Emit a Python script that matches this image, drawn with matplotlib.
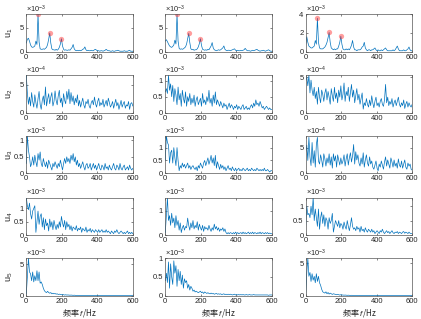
import numpy as np
import matplotlib
matplotlib.use('Agg')
import matplotlib.pyplot as plt

# ---------------- data (values in units of the panel's 10^exp) ----------------
freqs = np.arange(0, 601, 6)
xticks = [0, 200, 400, 600]
peak_freqs = [66, 132, 198]

u1a = [1.8,2.6,2.8,2.2,1.4,1.0,0.9,1.0,1.2,2.2, 1.5,7.8,2.0,0.6,0.5,0.5,0.6,0.5,0.7,0.9, 1.5,2.6,3.9,1.8,0.6,0.4,0.4,0.3,0.5,0.3, 0.5,0.9,1.6,2.7,1.2,0.5,0.3,0.4,0.3,0.3, 0.4,0.3,0.6,0.9,1.5,0.6,0.3,0.2,0.3,0.2, 0.3,0.2,0.3,0.5,0.6,1.0,0.4,0.2,0.3,0.2, 0.2,0.3,0.2,0.2,0.4,0.5,0.3,0.2,0.2,0.1, 0.2,0.2,0.1,0.2,0.3,0.5,0.3,0.2,0.2,0.1, 0.1,0.2,0.1,0.1,0.2,0.2,0.3,0.2,0.1,0.1, 0.1,0.1,0.2,0.1,0.1,0.1,0.2,0.3,0.1,0.1, 0.1]
u1b = [2.2,2.5,2.1,1.6,1.2,1.0,0.9,1.1,1.4,2.4, 1.6,7.8,2.2,0.7,0.5,0.6,0.5,0.6,0.8,1.0, 1.6,2.7,3.8,1.9,0.6,0.4,0.5,0.3,0.4,0.4, 0.6,1.0,1.7,2.7,1.3,0.5,0.4,0.3,0.4,0.3, 0.5,0.4,0.8,1.2,1.9,0.8,0.4,0.3,0.2,0.3, 0.4,0.3,0.4,0.6,0.8,1.2,0.5,0.3,0.2,0.3, 0.3,0.2,0.3,0.4,0.5,0.6,0.3,0.2,0.3,0.2, 0.2,0.3,0.2,0.3,0.4,0.7,0.4,0.2,0.2,0.2, 0.1,0.2,0.3,0.2,0.3,0.4,0.5,0.3,0.2,0.1, 0.2,0.2,0.3,0.2,0.1,0.2,0.3,0.4,0.2,0.1, 0.1]
u1c = [0.7,1.6,1.0,0.6,0.5,0.4,0.4,0.5,0.6,1.2, 0.8,3.57,1.0,0.4,0.3,0.3,0.3,0.4,0.5,0.7, 1.0,1.5,2.05,1.0,0.4,0.3,0.2,0.3,0.2,0.3, 0.3,0.6,1.0,1.65,0.8,0.3,0.2,0.2,0.3,0.2, 0.3,0.2,0.4,0.7,1.2,0.5,0.2,0.2,0.1,0.2, 0.2,0.2,0.3,0.5,0.6,1.0,0.4,0.2,0.1,0.2, 0.2,0.1,0.2,0.2,0.3,0.4,0.2,0.1,0.2,0.1, 0.1,0.2,0.1,0.2,0.3,0.4,0.2,0.1,0.1,0.1, 0.1,0.1,0.2,0.1,0.2,0.4,0.6,0.3,0.1,0.1, 0.1,0.1,0.2,0.1,0.1,0.2,0.3,0.5,0.2,0.1, 0.1]

u2a = [6.7,3.5,1.5,2.8,1.2,3.6,2.0,1.0,3.2,1.8, 0.8,2.5,3.8,1.5,0.6,2.2,3.0,1.4,4.6,1.2, 2.4,3.4,1.6,2.8,3.6,1.2,2.0,3.9,2.2,1.4, 3.0,4.0,1.8,2.6,1.0,3.4,2.2,1.6,3.8,2.4, 4.2,1.6,3.6,2.0,3.0,1.4,2.6,1.8,3.2,1.2, 2.2,1.0,1.8,2.6,1.4,0.8,2.0,1.6,2.4,1.2, 0.8,1.8,2.2,1.4,2.8,1.6,1.0,2.0,2.6,1.2, 1.8,1.4,2.4,1.0,1.6,2.2,1.2,2.6,1.8,1.0, 1.4,2.0,0.8,1.6,2.4,1.2,1.8,0.6,1.4,2.2, 1.0,1.6,2.0,0.8,1.4,1.2,2.0,0.6,1.6,1.8, 1.2]
u2b = [0.65,0.75,0.6,1.17,0.7,0.9,0.5,0.85,0.35,0.75, 0.55,0.25,0.8,0.4,0.6,0.2,0.7,0.45,0.3,0.65, 0.2,0.5,0.35,0.6,0.25,0.45,0.3,0.55,0.2,0.4, 0.5,0.25,0.35,0.45,0.2,0.6,0.3,0.4,0.25,0.5, 0.35,0.7,0.3,0.45,0.2,0.55,0.3,0.65,0.25,0.4, 0.3,0.2,0.35,0.25,0.15,0.3,0.2,0.25,0.1,0.2, 0.3,0.15,0.25,0.2,0.1,0.2,0.15,0.25,0.1,0.2, 0.15,0.1,0.2,0.25,0.1,0.15,0.2,0.1,0.15,0.1, 0.2,0.25,0.15,0.3,0.2,0.4,0.25,0.3,0.2,0.35, 0.25,0.15,0.2,0.1,0.15,0.2,0.15,0.1,0.15,0.1, 0.1]
u2c = [4.5,5.0,3.8,5.3,2.8,4.6,3.2,2.4,3.6,2.0, 3.0,1.2,3.6,2.2,1.4,3.2,2.6,1.6,2.8,3.4, 1.8,3.0,2.2,1.2,3.4,2.4,1.6,3.6,2.0,2.8, 1.4,3.2,2.2,3.8,1.8,2.6,4.2,1.6,3.0,2.4, 3.6,1.6,2.8,4.0,2.2,3.2,1.4,2.4,3.4,1.8, 2.6,1.2,2.0,2.8,0.5,1.4,1.0,2.0,1.2,0.8, 1.8,1.0,2.4,1.4,0.7,1.6,2.2,1.0,1.4,0.8, 1.6,2.0,1.2,0.9,1.8,4.0,1.4,2.2,1.0,1.6, 1.2,2.0,0.8,1.4,1.8,1.0,1.6,2.2,1.2,0.8, 1.4,1.0,1.8,0.6,1.2,1.6,0.8,1.4,1.0,0.8, 1.2]

u3a = [0.3,1.14,0.7,0.5,0.2,0.3,0.5,0.25,0.55,0.35, 0.2,0.6,0.4,0.65,0.3,0.2,0.45,0.3,0.2,0.35, 0.15,0.4,0.3,0.2,0.1,0.3,0.2,0.35,0.25,0.15, 0.3,0.2,0.4,0.25,0.1,0.3,0.45,0.3,0.5,0.35, 0.45,0.3,0.55,0.4,0.6,0.35,0.5,0.25,0.4,0.2, 0.3,0.15,0.25,0.35,0.2,0.1,0.25,0.3,0.15,0.2, 0.3,0.1,0.2,0.3,0.15,0.25,0.1,0.2,0.3,0.15, 0.1,0.25,0.2,0.1,0.3,0.15,0.2,0.1,0.25,0.15, 0.1,0.2,0.3,0.15,0.1,0.25,0.2,0.1,0.3,0.15, 0.1,0.2,0.25,0.1,0.15,0.2,0.1,0.25,0.15,0.1, 0.15]
u3b = [0.5,1.46,1.2,1.1,0.4,0.8,0.9,0.4,1.0,0.6, 0.3,1.0,0.5,0.1,0.3,0.2,0.4,0.25,0.35,0.2, 0.3,0.4,0.2,0.3,0.15,0.25,0.3,0.2,0.15,0.25, 0.1,0.3,0.2,0.4,0.3,0.2,0.4,0.5,0.3,0.45, 0.6,0.35,0.5,0.7,0.4,0.6,0.3,0.7,0.2,0.45, 0.3,0.15,0.35,0.2,0.3,0.15,0.25,0.1,0.2,0.3, 0.15,0.2,0.1,0.25,0.15,0.1,0.2,0.1,0.15,0.2, 0.1,0.15,0.1,0.2,0.15,0.1,0.15,0.2,0.1,0.15, 0.1,0.2,0.15,0.1,0.15,0.1,0.2,0.15,0.1,0.15, 0.1,0.15,0.1,0.2,0.1,0.1,0.15,0.1,0.05,0.1, 0.1]
u3c = [4.0,5.5,2.5,7.0,3.2,1.5,6.0,2.0,4.4,1.2, 5.6,7.0,2.4,1.8,3.6,2.6,1.2,3.8,2.8,1.4, 3.0,2.0,3.8,1.6,3.2,1.0,3.8,2.4,3.4,1.2, 3.6,2.6,1.6,3.0,1.8,2.4,3.6,1.4,2.8,3.8, 1.6,3.0,4.0,2.2,3.4,5.6,1.8,4.2,2.6,3.6, 2.0,1.4,3.0,1.8,4.0,1.2,2.6,3.6,2.0,1.4, 3.2,1.8,2.4,1.2,0.8,1.6,2.4,1.0,0.5,1.8, 1.2,2.4,1.6,0.8,2.2,3.2,1.4,2.6,1.8,1.0, 3.0,2.2,1.2,2.6,1.4,2.0,1.0,2.8,1.6,1.2, 2.4,1.0,1.8,2.6,1.2,0.8,2.0,1.4,1.8,0.8, 0.6]

u4a = [1.41,1.1,0.95,1.2,0.8,0.6,0.9,1.0,1.1,0.1, 0.5,0.9,0.4,0.7,0.8,0.3,0.65,0.2,0.6,0.35, 0.45,0.15,0.6,0.3,0.5,0.2,0.55,0.35,0.2,0.4, 0.25,0.5,0.3,0.7,0.45,0.3,0.55,0.2,0.5,0.3, 0.4,0.2,0.35,0.15,0.3,0.25,0.2,0.35,0.15,0.25, 0.2,0.3,0.1,0.25,0.2,0.15,0.3,0.1,0.2,0.15, 0.25,0.1,0.2,0.15,0.1,0.2,0.15,0.1,0.2,0.1, 0.15,0.2,0.1,0.15,0.1,0.2,0.1,0.15,0.1,0.05, 0.15,0.1,0.05,0.15,0.1,0.2,0.1,0.05,0.1,0.15, 0.1,0.05,0.1,0.05,0.1,0.15,0.05,0.1,0.05,0.1, 0.05]
u4b = [0.1,0.8,1.55,0.6,0.8,0.4,0.9,0.5,0.7,0.3, 0.8,0.4,0.6,0.2,0.5,0.1,0.3,0.4,0.2,0.35, 0.3,0.7,0.4,0.2,0.5,0.3,0.6,0.25,0.4,0.3, 0.55,0.2,0.45,0.3,0.2,0.4,0.15,0.35,0.25,0.3, 0.2,0.4,0.25,0.15,0.3,0.2,0.45,0.25,0.35,0.2, 0.3,0.15,0.25,0.2,0.3,0.15,0.25,0.1,0.05,0.1, 0.05,0.1,0.08,0.05,0.1,0.05,0.12,0.06,0.1,0.05, 0.08,0.1,0.05,0.12,0.06,0.1,0.05,0.08,0.12,0.05, 0.1,0.06,0.12,0.05,0.1,0.08,0.05,0.1,0.06,0.12, 0.05,0.1,0.08,0.05,0.1,0.06,0.1,0.05,0.08,0.06, 0.05]
u4c = [0.3,1.0,0.7,0.75,0.6,1.0,0.7,1.3,0.5,0.9, 0.6,0.3,0.9,0.2,0.6,0.8,0.4,0.7,0.3,0.6, 0.5,0.2,0.6,0.4,0.5,0.75,0.1,0.3,0.5,0.4, 0.3,0.5,0.25,0.4,0.35,0.2,0.45,0.3,0.2,0.5, 0.3,0.15,0.35,0.6,0.3,0.2,0.25,0.15,0.3,0.2, 0.25,0.1,0.3,0.15,0.2,0.1,0.25,0.15,0.1,0.2, 0.15,0.1,0.2,0.1,0.15,0.05,0.1,0.15,0.1,0.05, 0.15,0.1,0.2,0.1,0.05,0.1,0.15,0.08,0.12,0.05, 0.1,0.15,0.08,0.05,0.1,0.08,0.12,0.05,0.1,0.08, 0.05,0.1,0.12,0.06,0.1,0.08,0.05,0.1,0.06,0.05, 0.05]

u5a = [0.3,3.0,6.0,3.8,3.5,2.4,3.8,2.2,3.2,2.4, 4.0,2.4,3.8,2.0,2.2,1.8,1.2,0.8,0.6,0.5, 0.7,0.5,0.4,0.5,0.3,0.4,0.3,0.35,0.25,0.3, 0.2,0.25,0.2,0.15,0.2,0.15,0.1,0.15,0.1,0.12, 0.1,0.08,0.1,0.08,0.06,0.08,0.06,0.05,0.06,0.05, 0.05,0.04,0.05,0.04,0.05,0.04,0.03,0.04,0.03,0.04, 0.03,0.03,0.04,0.03,0.03,0.02,0.03,0.02,0.03,0.02, 0.02,0.03,0.02,0.02,0.03,0.02,0.02,0.02,0.03,0.02, 0.02,0.02,0.02,0.03,0.02,0.02,0.02,0.02,0.02,0.02, 0.02,0.02,0.02,0.02,0.02,0.02,0.02,0.02,0.02,0.02, 0.02]
u5b = [0.4,0.6,0.35,0.9,0.2,0.85,0.5,0.3,0.93,0.6, 0.8,0.25,0.7,0.4,0.65,0.3,0.55,0.2,0.45,0.35, 0.4,0.2,0.3,0.15,0.25,0.2,0.12,0.15,0.1,0.12, 0.1,0.08,0.1,0.12,0.08,0.1,0.06,0.1,0.08,0.06, 0.08,0.06,0.05,0.07,0.05,0.06,0.04,0.05,0.06,0.04, 0.05,0.04,0.05,0.03,0.04,0.05,0.03,0.04,0.03,0.04, 0.03,0.04,0.03,0.02,0.03,0.04,0.02,0.03,0.02,0.03, 0.02,0.03,0.02,0.03,0.02,0.02,0.03,0.02,0.02,0.03, 0.02,0.02,0.02,0.03,0.02,0.02,0.02,0.02,0.02,0.02, 0.02,0.02,0.02,0.02,0.02,0.02,0.02,0.01,0.02,0.02, 0.02]
u5c = [0.2,3.5,5.8,3.0,3.6,2.2,3.4,2.4,3.0,2.0, 3.4,2.2,3.0,2.0,1.6,1.0,0.6,0.5,0.4,0.6, 0.3,0.5,0.25,0.4,0.3,0.2,0.3,0.25,0.2,0.15, 0.2,0.15,0.1,0.15,0.12,0.1,0.08,0.1,0.08,0.06, 0.08,0.06,0.05,0.06,0.05,0.04,0.05,0.04,0.04,0.05, 0.04,0.03,0.04,0.03,0.04,0.03,0.03,0.02,0.03,0.03, 0.02,0.03,0.02,0.03,0.02,0.02,0.03,0.02,0.02,0.02, 0.02,0.02,0.02,0.02,0.02,0.02,0.02,0.02,0.02,0.02, 0.02,0.02,0.02,0.02,0.02,0.02,0.02,0.02,0.02,0.02, 0.02,0.02,0.02,0.02,0.02,0.02,0.02,0.02,0.02,0.02, 0.02]

series = [[u1a, u1b, u1c], [u2a, u2b, u2c], [u3a, u3b, u3c],
          [u4a, u4b, u4c], [u5a, u5b, u5c]]
exponents = [[-3, -3, -3], [-4, -3, -4], [-3, -3, -4], [-3, -3, -3], [-3, -3, -3]]
ylims = [[7.8, 7.8, 4.0], [6.7, 1.17, 5.3], [1.14, 1.46, 7.3], [1.41, 1.55, 1.3], [6.0, 1.0, 5.8]]
yticks = [[[0, 5], [0, 5], [0, 2, 4]],
          [[0, 5], [0, 0.5, 1], [0, 5]],
          [[0, 0.5, 1], [0, 0.5, 1], [0, 5]],
          [[0, 0.5, 1], [0, 1], [0, 0.5, 1]],
          [[0, 5], [0, 0.5, 1], [0, 5]]]
ylabels = ['u$_1$', 'u$_2$', 'u$_3$', 'u$_4$', 'u$_5$']
xlabel = '频率 $\\mathit{f}$/Hz'

# ---------------- styling ----------------
plt.rcParams['font.family'] = ['Liberation Sans', 'DejaVu Sans']
plt.rcParams['mathtext.fontset'] = 'custom'
plt.rcParams['mathtext.rm'] = 'Liberation Sans'
plt.rcParams['mathtext.it'] = 'Liberation Sans:italic'

W, H = 421, 319
lefts = [26.3, 165.3, 305.7]
bottoms = [267.3, 206.3, 145.7, 84.0, 23.3]
aw, ah = 106.5, 37.5
line_color = '#0072BD'
axis_color = '#262626'

fig = plt.figure(figsize=(W / 100, H / 100), dpi=100)

for r in range(5):
    for c in range(3):
        ax = fig.add_axes([lefts[c] / W, bottoms[r] / H, aw / W, ah / H])
        y = np.array(series[r][c])
        ax.plot(freqs, y, color=line_color, lw=0.5)
        if r == 0:
            idx = [int(np.where(freqs == f)[0][0]) for f in peak_freqs]
            ax.plot(freqs[idx], y[idx], 'o', ms=3.8, mfc=(1, 0.15, 0.15, 0.45),
                    mec='none')
        ax.set_xlim(0, 600)
        ax.set_ylim(0, ylims[r][c])
        ax.set_xticks(xticks)
        ax.set_xticklabels([f'{t:g}' for t in xticks])
        ax.set_yticks(yticks[r][c])
        ax.set_yticklabels([f'{t:g}' for t in yticks[r][c]])
        ax.tick_params(direction='in', length=1.5, width=0.4, labelsize=5.5,
                       pad=1.5, top=True, right=True, colors=axis_color)
        for s in ax.spines.values():
            s.set_linewidth(0.5)
            s.set_color('#555555')
        ax.text(0, 1.04, r'$\times10^{%d}$' % exponents[r][c], transform=ax.transAxes,
                fontsize=5.3, va='baseline', ha='left', color=axis_color)
        if c == 0:
            ax.set_ylabel(ylabels[r], fontsize=6.5, color=axis_color)
            ax.yaxis.set_label_coords(-0.105, 0.5)
        if r == 4:
            ax.text(0.5, -0.45, xlabel, transform=ax.transAxes, fontsize=5.8,
                    ha='center', va='center', color=axis_color,
                    family=['Noto Sans CJK SC', 'Liberation Sans'])

fig.savefig('out.png', dpi=100, facecolor='white')
